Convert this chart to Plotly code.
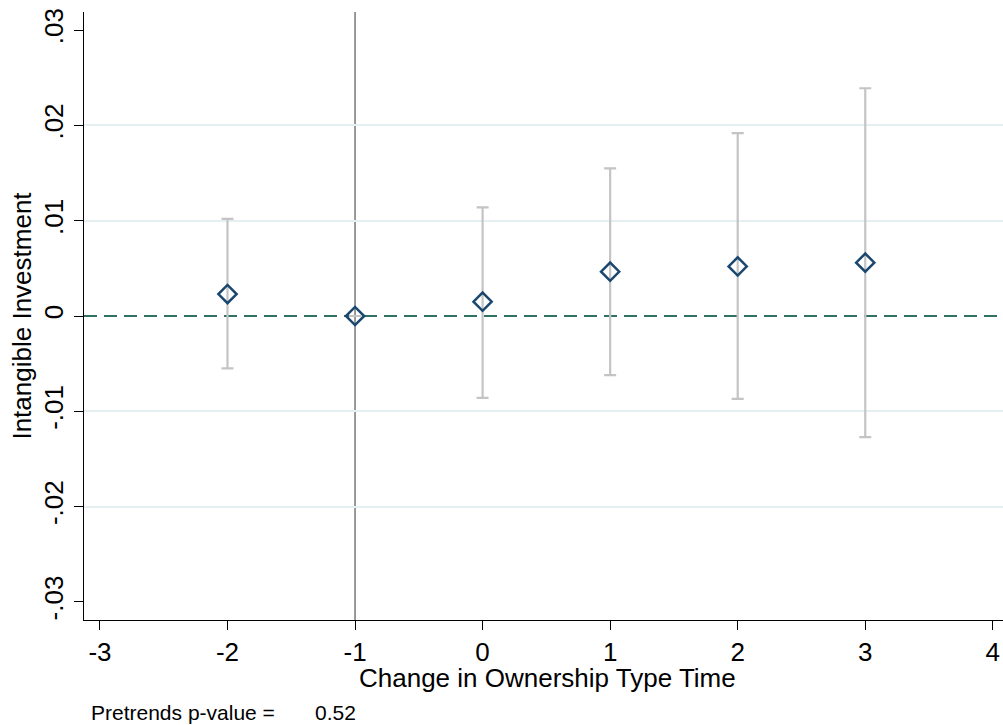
import plotly.graph_objects as go

# Data
event_time = [-2, -1, 0, 1, 2, 3]
coef = [0.0023, 0.0, 0.0015, 0.00465, 0.0052, 0.0056]
ci_upper = [0.0102, 0.0, 0.0114, 0.0155, 0.0192, 0.0239]
ci_lower = [-0.0055, 0.0, -0.0086, -0.0062, -0.0087, -0.0127]
x_ticks = [-3, -2, -1, 0, 1, 2, 3, 4]
y_ticks = [-0.03, -0.02, -0.01, 0, 0.01, 0.02, 0.03]
y_tick_labels = ["-.03", "-.02", "-.01", "0", ".01", ".02", ".03"]
grid_vals = [-0.02, -0.01, 0.01, 0.02]
ref_x = -1
ref_y = 0
pretrend_p = 0.52

err_plus = [u - c for u, c in zip(ci_upper, coef)]
err_minus = [c - l for c, l in zip(coef, ci_lower)]

FONT = "Liberation Sans, Arial, sans-serif"
YR = [-0.0319, 0.0319]
XR = [-3.125, 4.08]

fig = go.Figure()

# Invisible trace on secondary y axis to produce gridlines
fig.add_trace(go.Scatter(x=[event_time[0]], y=[0], yaxis="y2", mode="markers",
                         marker=dict(opacity=0), showlegend=False, hoverinfo="skip"))

fig.add_trace(go.Scatter(
    x=event_time, y=coef, mode="markers",
    marker=dict(symbol="diamond-open", size=14, color="#1a476f",
                line=dict(width=2.5, color="#1a476f")),
    error_y=dict(type="data", symmetric=False, array=err_plus, arrayminus=err_minus,
                 color="#c4c4c4", thickness=2.2, width=6),
    showlegend=False,
))

fig.add_hline(y=ref_y, line=dict(color="#2f7264", width=2.2, dash="13px,7px"), layer="below")
fig.add_vline(x=ref_x, line=dict(color="#555555", width=1.2), layer="below")

fig.update_layout(
    width=1003, height=725,
    margin=dict(l=84, r=0, t=12, b=105),
    paper_bgcolor="white", plot_bgcolor="white",
    font=dict(family=FONT, size=26, color="black"),
    xaxis=dict(range=XR, tickvals=x_ticks, ticktext=[str(v) for v in x_ticks],
               showgrid=False, zeroline=False, showline=True, linecolor="black", linewidth=1.3,
               ticks="outside", ticklen=9, tickcolor="black", tickwidth=1.3,
               tickfont=dict(size=26)),
    yaxis=dict(range=YR, tickvals=y_ticks, ticktext=y_tick_labels, tickangle=-90,
               showgrid=False, zeroline=False, showline=True, linecolor="black", linewidth=1.3,
               ticks="outside", ticklen=9, tickcolor="black", tickwidth=1.3,
               tickfont=dict(size=26),
               title=dict(text="Intangible Investment", font=dict(size=26), standoff=0)),
    yaxis2=dict(range=YR, overlaying="y", tickvals=grid_vals, showticklabels=False,
                showgrid=True, gridcolor="#e6eff1", gridwidth=1.8, zeroline=False,
                showline=False, ticks="", layer="below traces"),
    annotations=[
        dict(text="Change in Ownership Type Time", xref="paper", yref="paper",
             x=(547 - 84) / 919, y=-(678 - 620) / 608, xanchor="center", yanchor="middle",
             showarrow=False, font=dict(size=26, family=FONT)),
        dict(text="Pretrends p-value =", xref="paper", yref="paper",
             x=(89 - 84) / 919, y=-(712 - 620) / 608, xanchor="left", yanchor="middle",
             showarrow=False, font=dict(size=21, family=FONT)),
        dict(text=f"{pretrend_p:.2f}", xref="paper", yref="paper",
             x=(313 - 84) / 919, y=-(712 - 620) / 608, xanchor="left", yanchor="middle",
             showarrow=False, font=dict(size=21, family=FONT)),
    ],
)

fig.write_html(
    "out.html",
    config={"displayModeBar": False},
    post_script="document.body.style.margin='0';document.body.style.overflow='hidden';",
)
